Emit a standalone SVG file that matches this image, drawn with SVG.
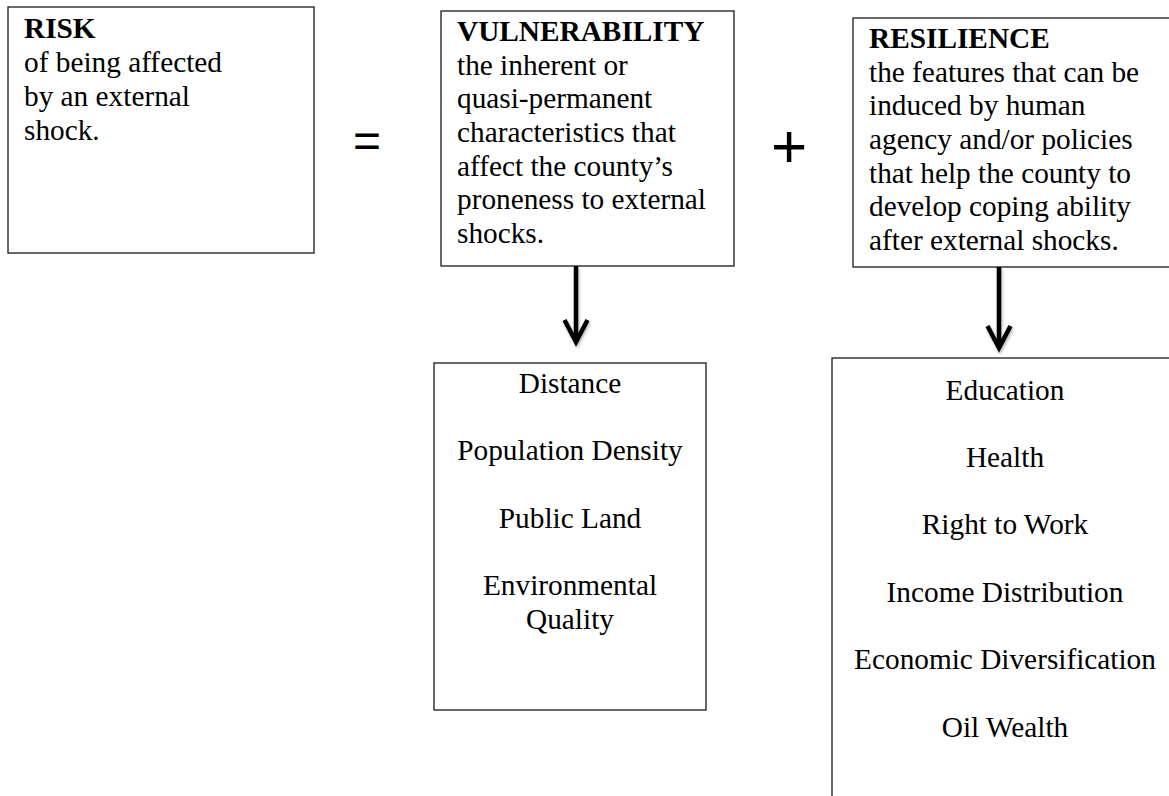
<svg xmlns="http://www.w3.org/2000/svg" width="1169" height="796" viewBox="0 0 1169 796">
<style>
.box{fill:#fff;stroke:#1a1a1a;stroke-width:1.3}
.t{font-family:"Liberation Serif","Times New Roman",serif;font-size:29.3px;fill:#000}
.b{font-weight:bold}
.c{text-anchor:middle}
.op{font-family:"Liberation Sans",Arial,sans-serif;fill:#000}
.arr{fill:none;stroke:#000;stroke-width:4.5;marker-end:url(#chev)}
</style>
<defs>
<filter id="sh" x="-50%" y="-20%" width="200%" height="150%">
<feDropShadow dx="1" dy="2" stdDeviation="1.5" flood-color="#000" flood-opacity="0.3"/>
</filter>
<marker id="chev" markerUnits="userSpaceOnUse" viewBox="-30 -16 36 32" markerWidth="36" markerHeight="32" refX="0" refY="0" orient="auto" overflow="visible">
<path d="M-22,-11.5 L0,0 L-22,11.5" fill="none" stroke="#000" stroke-width="4.5" stroke-linejoin="miter" stroke-miterlimit="10"/>
</marker>
</defs>
<rect x="0" y="0" width="1169" height="796" fill="#fff"/>
<g id="risk">
<rect class="box" x="8" y="7" width="306" height="246"/>
<text class="t" x="24" y="38"><tspan class="b">RISK</tspan><tspan x="24" y="72">of being affected</tspan><tspan x="24" y="106">by an external</tspan><tspan x="24" y="140">shock.</tspan></text>
</g>
<g id="equals">
<text class="op" x="353" y="157" font-size="48">=</text>
</g>
<g id="vulnerability">
<rect class="box" x="441" y="11" width="293" height="255"/>
<text class="t" x="457" y="41"><tspan class="b">VULNERABILITY</tspan><tspan x="457" y="75">the inherent or</tspan><tspan x="457" y="108">quasi-permanent</tspan><tspan x="457" y="142">characteristics that</tspan><tspan x="457" y="176">affect the county’s</tspan><tspan x="457" y="209">proneness to external</tspan><tspan x="457" y="243">shocks.</tspan></text>
</g>
<g id="plus">
<text class="op" x="771" y="167" font-size="62">+</text>
</g>
<g id="resilience">
<rect class="box" x="853" y="18" width="400" height="249"/>
<text class="t" x="869" y="48"><tspan class="b">RESILIENCE</tspan><tspan x="869" y="82">the features that can be</tspan><tspan x="869" y="115">induced by human</tspan><tspan x="869" y="149">agency and/or policies</tspan><tspan x="869" y="183">that help the county to</tspan><tspan x="869" y="216">develop coping ability</tspan><tspan x="869" y="250">after external shocks.</tspan></text>
</g>
<g id="vulnerability-factors">
<rect class="box" x="434" y="363" width="272" height="347"/>
<text class="t c" x="570" y="393">Distance</text>
<text class="t c" x="570" y="460">Population Density</text>
<text class="t c" x="570" y="528">Public Land</text>
<text class="t c" x="570" y="595">Environmental</text>
<text class="t c" x="570" y="629">Quality</text>
</g>
<g id="resilience-factors">
<rect class="box" x="832" y="358" width="400" height="500"/>
<text class="t c" x="1005" y="400">Education</text>
<text class="t c" x="1005" y="467">Health</text>
<text class="t c" x="1005" y="534">Right to Work</text>
<text class="t c" x="1005" y="602">Income Distribution</text>
<text class="t c" x="1005" y="669">Economic Diversification</text>
<text class="t c" x="1005" y="737">Oil Wealth</text>
</g>
<g id="connectors" filter="url(#sh)">
<path class="arr" d="M576,266 L576,342"/>
<path class="arr" d="M999,267 L999,348"/>
</g>
</svg>
